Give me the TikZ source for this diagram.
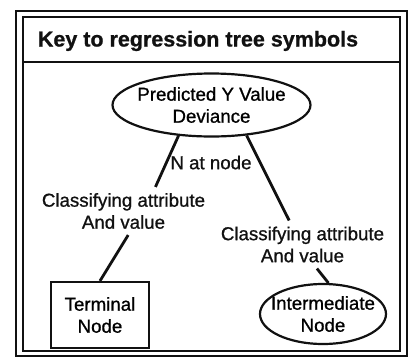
\documentclass[tikz,border=0pt]{standalone}
\usepackage{fontspec}
\setmainfont{Liberation Sans}[FakeBold=0.9]
\usepackage{tikz}
\usetikzlibrary{shapes.geometric,positioning}
\definecolor{keyink}{HTML}{111111}

\begin{document}
\begin{tikzpicture}[x=1bp,y=-1bp,font=\fontsize{18.7bp}{22bp}\selectfont,
  oval/.style={draw=keyink,line width=2.2bp,ellipse,inner xsep=-10bp,inner ysep=0bp,align=center},
  lbl/.style={inner xsep=2bp,inner ysep=6bp,align=center,text=keyink},
  link/.style={draw=keyink,line width=2.8bp}]
\useasboundingbox (0,0) rectangle (410,361);
% double frame and title rule
\draw[keyink,line width=1.8bp] (16,11) rectangle (407,356);
\draw[keyink,line width=1.8bp] (23,17) rectangle (400,351);
\draw[keyink,line width=1.6bp] (23,62) -- (400,62);
\node[font=\fontsize{21.5bp}{24bp}\selectfont\bfseries,text=keyink] (title) at (198,41)
  {Key to regression tree symbols};
% root of the key
\node[oval,minimum width=198bp,minimum height=63bp] (root) at (211.5,105)
  {Predicted Y Value\\Deviance};
\node[lbl] (nat) at (211,162.5) {N at node};
\node[lbl] (lcls) at (123.5,211) {Classifying attribute\\And value};
\node[lbl] (rcls) at (302.5,244.5) {Classifying attribute\\And value};
\node[draw=keyink,line width=2.2bp,minimum width=98bp,minimum height=66bp,align=center]
  (term) at (100,315) {Terminal\\Node};
\node[oval,minimum width=126bp,minimum height=60bp] (inter) at (323,314)
  {Intermediate\\Node};
\draw[link] (root.223) -- (lcls.37);
\draw[link] (lcls.281) -- (term.north);
\draw[link] (root.319) -- (rcls.119);
\draw[link] (rcls.301) -- (inter.80);
\end{tikzpicture}
\end{document}
